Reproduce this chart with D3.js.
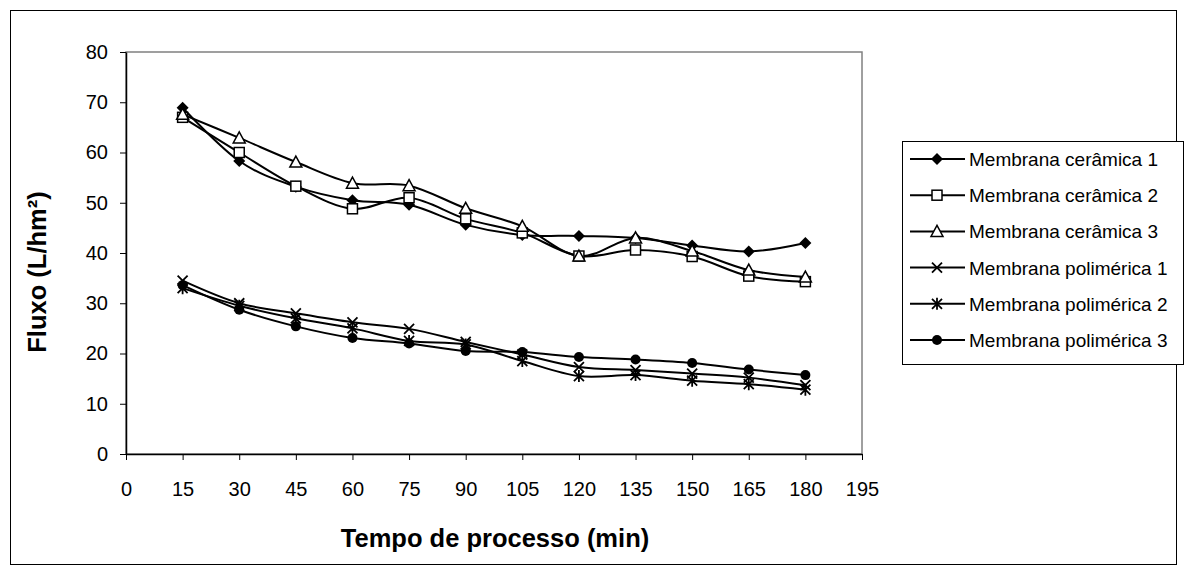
<!DOCTYPE html>
<html><head><meta charset="utf-8">
<script src="https://cdn.jsdelivr.net/npm/d3@7"></script>
<style>body{margin:0;background:#fff}svg{display:block}text{font-family:"Liberation Sans",Arial,sans-serif;fill:#000}</style>
</head><body>
<svg id="c" width="1185" height="573"></svg>
<script>
const times = [15,30,45,60,75,90,105,120,135,150,165,180];
const xTicks = [0,15,30,45,60,75,90,105,120,135,150,165,180,195];
const yTicks = [0,10,20,30,40,50,60,70,80];
const seriesNames = ["Membrana cerâmica 1","Membrana cerâmica 2","Membrana cerâmica 3","Membrana polimérica 1","Membrana polimérica 2","Membrana polimérica 3"];
const ceramica1 = [68.9,58.3,53.2,50.5,49.6,45.6,43.6,43.4,43.0,41.5,40.3,42.0];
const ceramica2 = [67.0,60.0,53.3,48.8,51.0,46.8,44.0,39.4,40.6,39.3,35.4,34.3];
const ceramica3 = [67.6,62.9,58.1,53.9,53.4,48.9,45.3,39.4,43.0,40.4,36.6,35.2];
const polimerica1 = [34.5,30.0,28.0,26.2,24.9,22.3,19.8,17.3,16.7,16.0,15.2,13.7];
const polimerica2 = [33.0,29.5,27.0,25.0,22.5,21.8,18.5,15.5,15.7,14.6,13.9,12.8];
const polimerica3 = [33.6,28.7,25.4,23.1,22.0,20.5,20.3,19.3,18.8,18.1,16.8,15.7];
const markers = ["diamond","square","triangle","x","asterisk","circle"];
const allSeries = [ceramica1,ceramica2,ceramica3,polimerica1,polimerica2,polimerica3];

const svg = d3.select("#c");
const L=126,R=862,T=52,B=454;
const x = d3.scaleLinear().domain([0,195]).range([L,R]);
const y = d3.scaleLinear().domain([0,80]).range([B,T]);

svg.append("rect").attr("x",10.5).attr("y",10.5).attr("width",1166).attr("height",554)
  .attr("fill","none").attr("stroke","#000").attr("stroke-width",1);
svg.append("rect").attr("x",L).attr("y",T).attr("width",R-L).attr("height",B-T)
  .attr("fill","none").attr("stroke","#808080").attr("stroke-width",1.5);

const gx = svg.append("g").attr("transform",`translate(0,${B})`)
  .call(d3.axisBottom(x).tickValues(xTicks).tickSize(6).tickPadding(22).tickSizeOuter(0));
const gy = svg.append("g").attr("transform",`translate(${L},0)`)
  .call(d3.axisLeft(y).tickValues(yTicks).tickSize(6).tickPadding(12).tickSizeOuter(0));
[gx,gy].forEach(g=>{g.attr("font-size",20).attr("font-family","Liberation Sans, Arial, sans-serif");
  g.select(".domain").attr("stroke","#000").attr("stroke-width",1.5);
  g.selectAll(".tick line").attr("stroke","#000");
  g.selectAll("text").attr("font-size",20);});

svg.append("text").attr("x",(L+R)/2+1).attr("y",547).attr("text-anchor","middle")
  .attr("font-size",25.5).attr("font-weight","bold").text("Tempo de processo (min)");
svg.append("text").attr("transform",`translate(46,272) rotate(-90)`).attr("text-anchor","middle")
  .attr("font-size",25.5).attr("font-weight","bold").text("Fluxo (L/hm²)");

function drawMarker(g,type,cx,cy){
  const s=5;
  if(type==="diamond") g.append("path").attr("d",`M${cx},${cy-s-1}L${cx+s+1},${cy}L${cx},${cy+s+1}L${cx-s-1},${cy}Z`).attr("fill","#000");
  else if(type==="square") g.append("rect").attr("x",cx-s).attr("y",cy-s).attr("width",2*s).attr("height",2*s).attr("fill","#fff").attr("stroke","#000").attr("stroke-width",1.5);
  else if(type==="triangle") g.append("path").attr("d",`M${cx},${cy-s-1}L${cx+s+1},${cy+s}L${cx-s-1},${cy+s}Z`).attr("fill","#fff").attr("stroke","#000").attr("stroke-width",1.5);
  else if(type==="x") g.append("path").attr("d",`M${cx-s},${cy-s}L${cx+s},${cy+s}M${cx+s},${cy-s}L${cx-s},${cy+s}`).attr("stroke","#000").attr("stroke-width",1.8);
  else if(type==="asterisk") g.append("path").attr("d",`M${cx-s},${cy-s}L${cx+s},${cy+s}M${cx+s},${cy-s}L${cx-s},${cy+s}M${cx},${cy-s-1}L${cx},${cy+s+1}`).attr("stroke","#000").attr("stroke-width",1.8);
  else if(type==="circle") g.append("circle").attr("cx",cx).attr("cy",cy).attr("r",s).attr("fill","#000");
}

const line = d3.line().x((d,i)=>x(times[i])).y(d=>y(d)).curve(d3.curveCardinal.tension(0));
const plot = svg.append("g");
allSeries.forEach(vals=>{
  plot.append("path").attr("d",line(vals)).attr("fill","none").attr("stroke","#000").attr("stroke-width",2);
});
allSeries.forEach((vals,k)=>{
  const g=plot.append("g");
  vals.forEach((v,i)=>drawMarker(g,markers[k],x(times[i]),y(v)));
});

const lg = svg.append("g");
lg.append("rect").attr("x",902.5).attr("y",141.5).attr("width",281).attr("height",223).attr("fill","#fff").attr("stroke","#000").attr("stroke-width",1);
seriesNames.forEach((n,k)=>{
  const yy=159+k*36.2;
  lg.append("line").attr("x1",910).attr("x2",965).attr("y1",yy).attr("y2",yy).attr("stroke","#000").attr("stroke-width",2);
  drawMarker(lg,markers[k],937,yy);
  lg.append("text").attr("x",969).attr("y",yy+7).attr("font-size",19).text(n);
});
</script>
</body></html>
